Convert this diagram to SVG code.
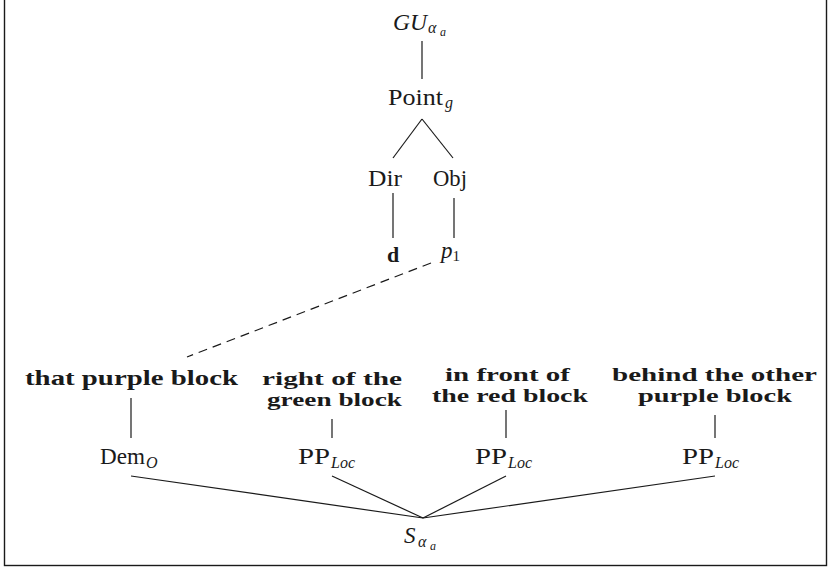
<svg xmlns="http://www.w3.org/2000/svg" width="829" height="568" viewBox="0 0 829 568">
  <style>
    .rm { font-family: "Liberation Serif", "DejaVu Serif", serif; font-size: 23px; fill: #1a1a1a; }
    .bf { font-family: "Liberation Serif", "DejaVu Serif", serif; font-size: 22px; font-weight: bold; fill: #1a1a1a; }
    .bf2 { font-size: 18.5px; }
    .it { font-style: italic; }
    .sub { font-size: 16px; font-style: italic; }
    .ssub { font-size: 12px; font-style: italic; }
    .edge { stroke: #1a1a1a; stroke-width: 1.2; fill: none; }
    .dash { stroke-dasharray: 9 6; }
  </style>
  <rect x="4.5" y="-1" width="822" height="566.5" fill="#ffffff" stroke="#1a1a1a" stroke-width="1.4"/>

  <g id="connectors">
    <line class="edge" x1="422" y1="41" x2="422" y2="79"/>
    <line class="edge" x1="422" y1="119" x2="393" y2="158"/>
    <line class="edge" x1="422" y1="119" x2="453" y2="158"/>
    <line class="edge" x1="393" y1="193" x2="393" y2="238"/>
    <line class="edge" x1="454" y1="198" x2="454" y2="238"/>
    <line class="edge dash" x1="431" y1="263" x2="187" y2="357"/>
    <line class="edge" x1="131" y1="398" x2="131" y2="438"/>
    <line class="edge" x1="332" y1="419" x2="332" y2="438"/>
    <line class="edge" x1="506" y1="410" x2="506" y2="438"/>
    <line class="edge" x1="715" y1="415" x2="715" y2="438"/>
    <line class="edge" x1="131" y1="476" x2="423" y2="518"/>
    <line class="edge" x1="332" y1="476" x2="423" y2="518"/>
    <line class="edge" x1="506" y1="476" x2="423" y2="518"/>
    <line class="edge" x1="715" y1="476" x2="423" y2="518"/>
  </g>

  <g id="gu">
    <text class="rm it" x="393" y="30" textLength="34" lengthAdjust="spacingAndGlyphs">GU</text>
    <text class="rm sub" x="428" y="33">α</text>
    <text class="rm ssub" x="440" y="36">a</text>
  </g>
  <g id="point">
    <text class="rm" x="388" y="105" textLength="55" lengthAdjust="spacingAndGlyphs">Point</text>
    <text class="rm sub" x="445" y="108">g</text>
  </g>
  <g id="dir">
    <text class="rm" x="385" y="186" text-anchor="middle" textLength="34" lengthAdjust="spacingAndGlyphs">Dir</text>
  </g>
  <g id="obj">
    <text class="rm" x="450" y="186" text-anchor="middle" textLength="34" lengthAdjust="spacingAndGlyphs">Obj</text>
  </g>
  <g id="d">
    <text class="bf" x="393" y="262" text-anchor="middle">d</text>
  </g>
  <g id="p1">
    <text class="rm it" x="441" y="258">p<tspan font-size="15" font-style="normal" dy="3">1</tspan></text>
  </g>

  <g id="np-that-purple-block">
    <text class="bf" x="131.5" y="385" text-anchor="middle" textLength="213" lengthAdjust="spacingAndGlyphs">that purple block</text>
  </g>
  <g id="pp-right">
    <text class="bf bf2" x="332" y="385" text-anchor="middle" textLength="140" lengthAdjust="spacingAndGlyphs">right of the</text>
    <text class="bf bf2" x="334.5" y="406" text-anchor="middle" textLength="135" lengthAdjust="spacingAndGlyphs">green block</text>
  </g>
  <g id="pp-front">
    <text class="bf bf2" x="507.5" y="381" text-anchor="middle" textLength="125" lengthAdjust="spacingAndGlyphs">in front of</text>
    <text class="bf bf2" x="510" y="402" text-anchor="middle" textLength="156" lengthAdjust="spacingAndGlyphs">the red block</text>
  </g>
  <g id="pp-behind">
    <text class="bf bf2" x="714.5" y="381" text-anchor="middle" textLength="205" lengthAdjust="spacingAndGlyphs">behind the other</text>
    <text class="bf bf2" x="715" y="402" text-anchor="middle" textLength="154" lengthAdjust="spacingAndGlyphs">purple block</text>
  </g>

  <g id="dem">
    <text class="rm" x="100" y="464" textLength="45" lengthAdjust="spacingAndGlyphs">Dem</text>
    <text class="rm sub" x="146" y="468">O</text>
  </g>
  <g id="pp-loc-1">
    <text class="rm" x="298" y="464" textLength="32" lengthAdjust="spacingAndGlyphs">PP</text>
    <text class="rm sub" x="331" y="468">Loc</text>
  </g>
  <g id="pp-loc-2">
    <text class="rm" x="475" y="464" textLength="32" lengthAdjust="spacingAndGlyphs">PP</text>
    <text class="rm sub" x="508" y="468">Loc</text>
  </g>
  <g id="pp-loc-3">
    <text class="rm" x="682" y="464" textLength="32" lengthAdjust="spacingAndGlyphs">PP</text>
    <text class="rm sub" x="715" y="468">Loc</text>
  </g>

  <g id="s">
    <text class="rm it" x="404" y="543">S</text>
    <text class="rm sub" x="418" y="547">α</text>
    <text class="rm ssub" x="430" y="550">a</text>
  </g>
</svg>
